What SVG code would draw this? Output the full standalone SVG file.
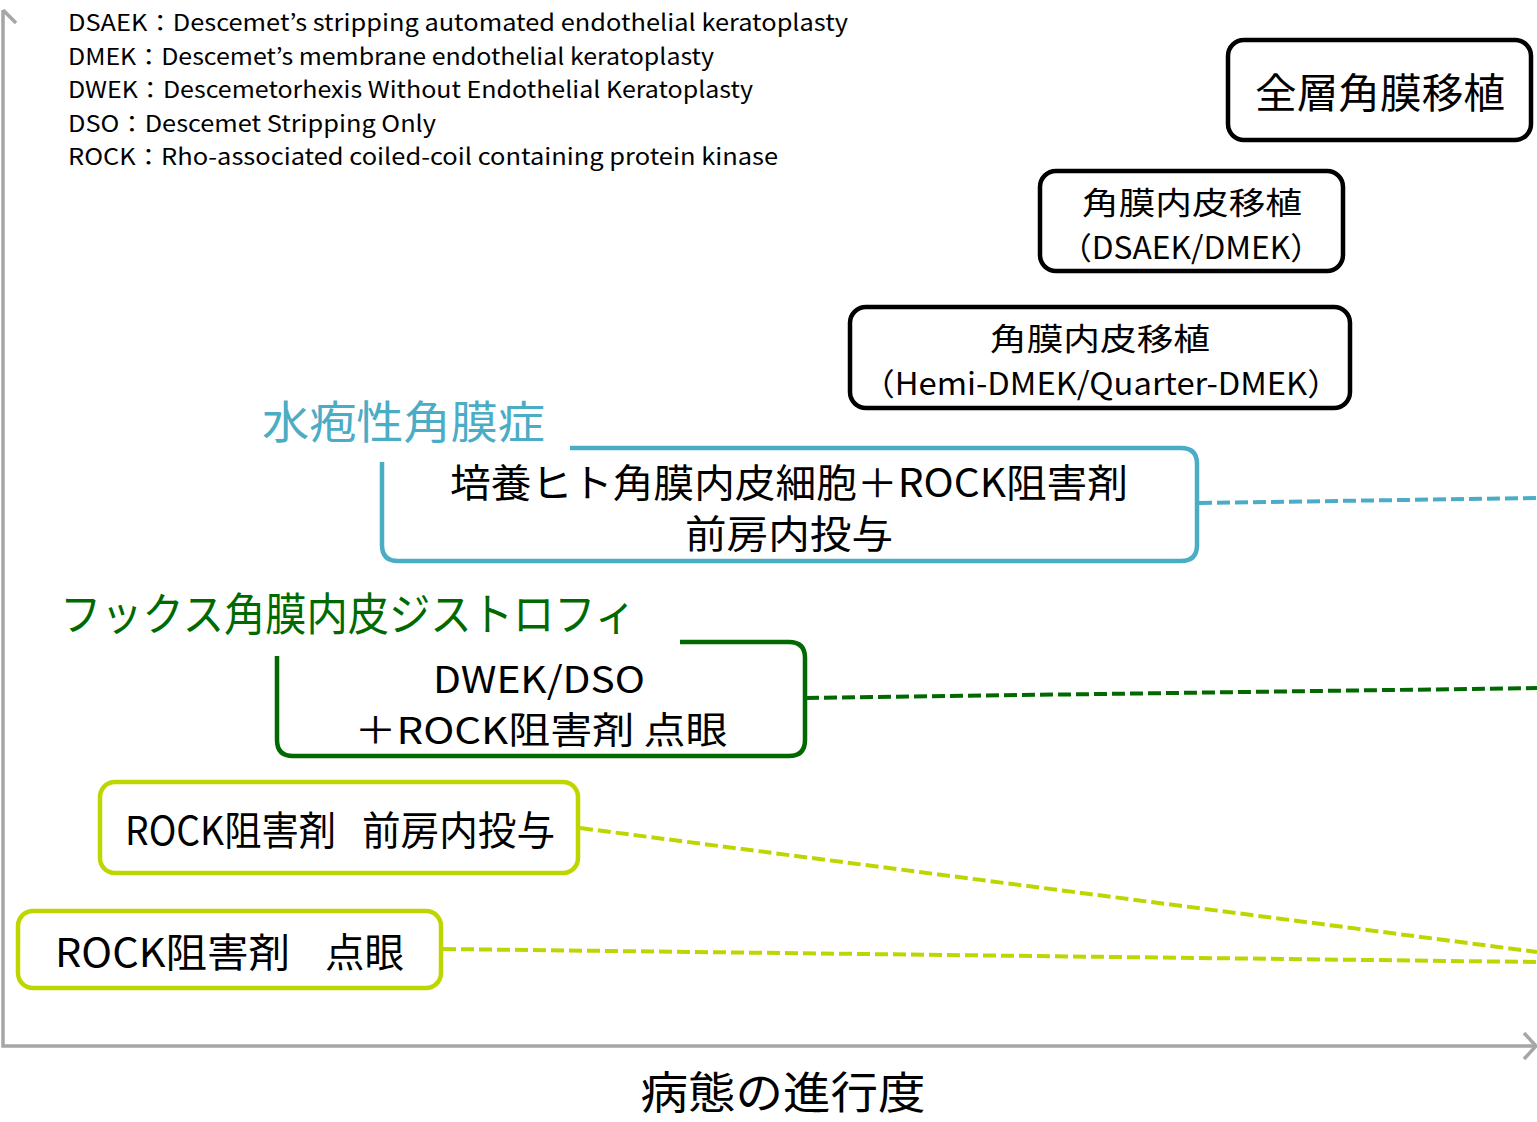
<svg xmlns="http://www.w3.org/2000/svg" width="1537" height="1122" viewBox="0 0 1537 1122">
<style>
text{font-family:"Noto Sans CJK JP","Liberation Sans",sans-serif;fill:#000}
.leg{font-size:23px}
.box{fill:#fff;stroke:#000;stroke-width:4.5}
.t{text-anchor:middle}
.axis{stroke:#a6a6a6;stroke-width:3.5;fill:none}
.blue{stroke:#4bacc6}
.green{stroke:#006a00}
.lime{stroke:#bed600}
.frame{fill:none;stroke-width:4.5}
.dash{fill:none;stroke-width:4;stroke-dasharray:13 5}
</style>
<rect width="1537" height="1122" fill="#fff"/>
<g id="axes">
<path class="axis" d="M3 10 V1046 H1535"/>
<path class="axis" d="M3 10 L16 23"/>
<path class="axis" d="M1524 1033 L1536 1046 L1524 1059"/>
</g>
<g id="legend">
<text class="leg" x="68" y="31" textLength="780" lengthAdjust="spacingAndGlyphs">DSAEK：Descemet’s stripping automated endothelial keratoplasty</text>
<text class="leg" x="68" y="65" textLength="646" lengthAdjust="spacingAndGlyphs">DMEK：Descemet’s membrane endothelial keratoplasty</text>
<text class="leg" x="68" y="98" textLength="685" lengthAdjust="spacingAndGlyphs">DWEK：Descemetorhexis Without Endothelial Keratoplasty</text>
<text class="leg" x="68" y="132" textLength="368" lengthAdjust="spacingAndGlyphs">DSO：Descemet Stripping Only</text>
<text class="leg" x="68" y="165" textLength="710" lengthAdjust="spacingAndGlyphs">ROCK：Rho-associated coiled-coil containing protein kinase</text>
</g>
<g id="connectors">
<path class="dash blue" d="M1199 503 L1537 498"/>
<path class="dash green" d="M806 698 L1537 688"/>
<path class="dash lime" d="M580 828 L1537 952"/>
<path class="dash lime" d="M443 949 L1537 962"/>
</g>
<g id="full-thickness">
<rect class="box" x="1228" y="40" width="303" height="100" rx="16"/>
<text class="t" x="1380" y="108" font-size="41" textLength="250" lengthAdjust="spacingAndGlyphs">全層角膜移植</text>
</g>
<g id="dsaek-dmek">
<rect class="box" x="1040" y="171" width="303" height="100" rx="16"/>
<text class="t" x="1192" y="214" font-size="31" textLength="220" lengthAdjust="spacingAndGlyphs">角膜内皮移植</text>
<text class="t" x="1191" y="259" font-size="31" textLength="262" lengthAdjust="spacingAndGlyphs">（DSAEK/DMEK）</text>
</g>
<g id="hemi-dmek">
<rect class="box" x="850" y="307" width="500" height="101" rx="16"/>
<text class="t" x="1100" y="350" font-size="31" textLength="220" lengthAdjust="spacingAndGlyphs">角膜内皮移植</text>
<text class="t" x="1101" y="395" font-size="31" textLength="478" lengthAdjust="spacingAndGlyphs">（Hemi-DMEK/Quarter-DMEK）</text>
</g>
<g id="bullous">
<text x="262" y="439" font-size="45" style="fill:#4bacc6" textLength="283" lengthAdjust="spacingAndGlyphs">水疱性角膜症</text>
<path class="frame blue" d="M570 448 H1181 Q1197 448 1197 464 V545 Q1197 561 1181 561 H398 Q382 561 382 545 V462"/>
<text class="t" x="789" y="497" font-size="39" textLength="678" lengthAdjust="spacingAndGlyphs">培養ヒト角膜内皮細胞＋ROCK阻害剤</text>
<text class="t" x="789" y="548" font-size="39" textLength="208" lengthAdjust="spacingAndGlyphs">前房内投与</text>
</g>
<g id="fuchs">
<text x="60" y="631" font-size="45" style="fill:#006a00" textLength="576" lengthAdjust="spacingAndGlyphs">フックス角膜内皮ジストロフィ</text>
<path class="frame green" d="M680 642 H789 Q805 642 805 658 V740 Q805 756 789 756 H293 Q277 756 277 740 V656"/>
<text class="t" x="539" y="693" font-size="37" textLength="212" lengthAdjust="spacingAndGlyphs">DWEK/DSO</text>
<text class="t" x="541" y="744" font-size="37" textLength="373" lengthAdjust="spacingAndGlyphs">＋ROCK阻害剤 点眼</text>
</g>
<g id="rock-ac">
<rect class="frame lime" x="100" y="782" width="478" height="91" rx="15" fill="#fff"/>
<text y="845" font-size="40"><tspan x="125" textLength="211" lengthAdjust="spacingAndGlyphs">ROCK阻害剤</tspan>　<tspan x="362" textLength="193" lengthAdjust="spacingAndGlyphs">前房内投与</tspan></text>
</g>
<g id="rock-drop">
<rect class="frame lime" x="18" y="911" width="423" height="77" rx="15" fill="#fff"/>
<text y="967" font-size="40"><tspan x="55" textLength="235" lengthAdjust="spacingAndGlyphs">ROCK阻害剤</tspan>　<tspan x="325" textLength="79" lengthAdjust="spacingAndGlyphs">点眼</tspan></text>
</g>
<g id="x-label">
<text class="t" x="783" y="1109" font-size="44" textLength="285" lengthAdjust="spacingAndGlyphs">病態の進行度</text>
</g>
</svg>
